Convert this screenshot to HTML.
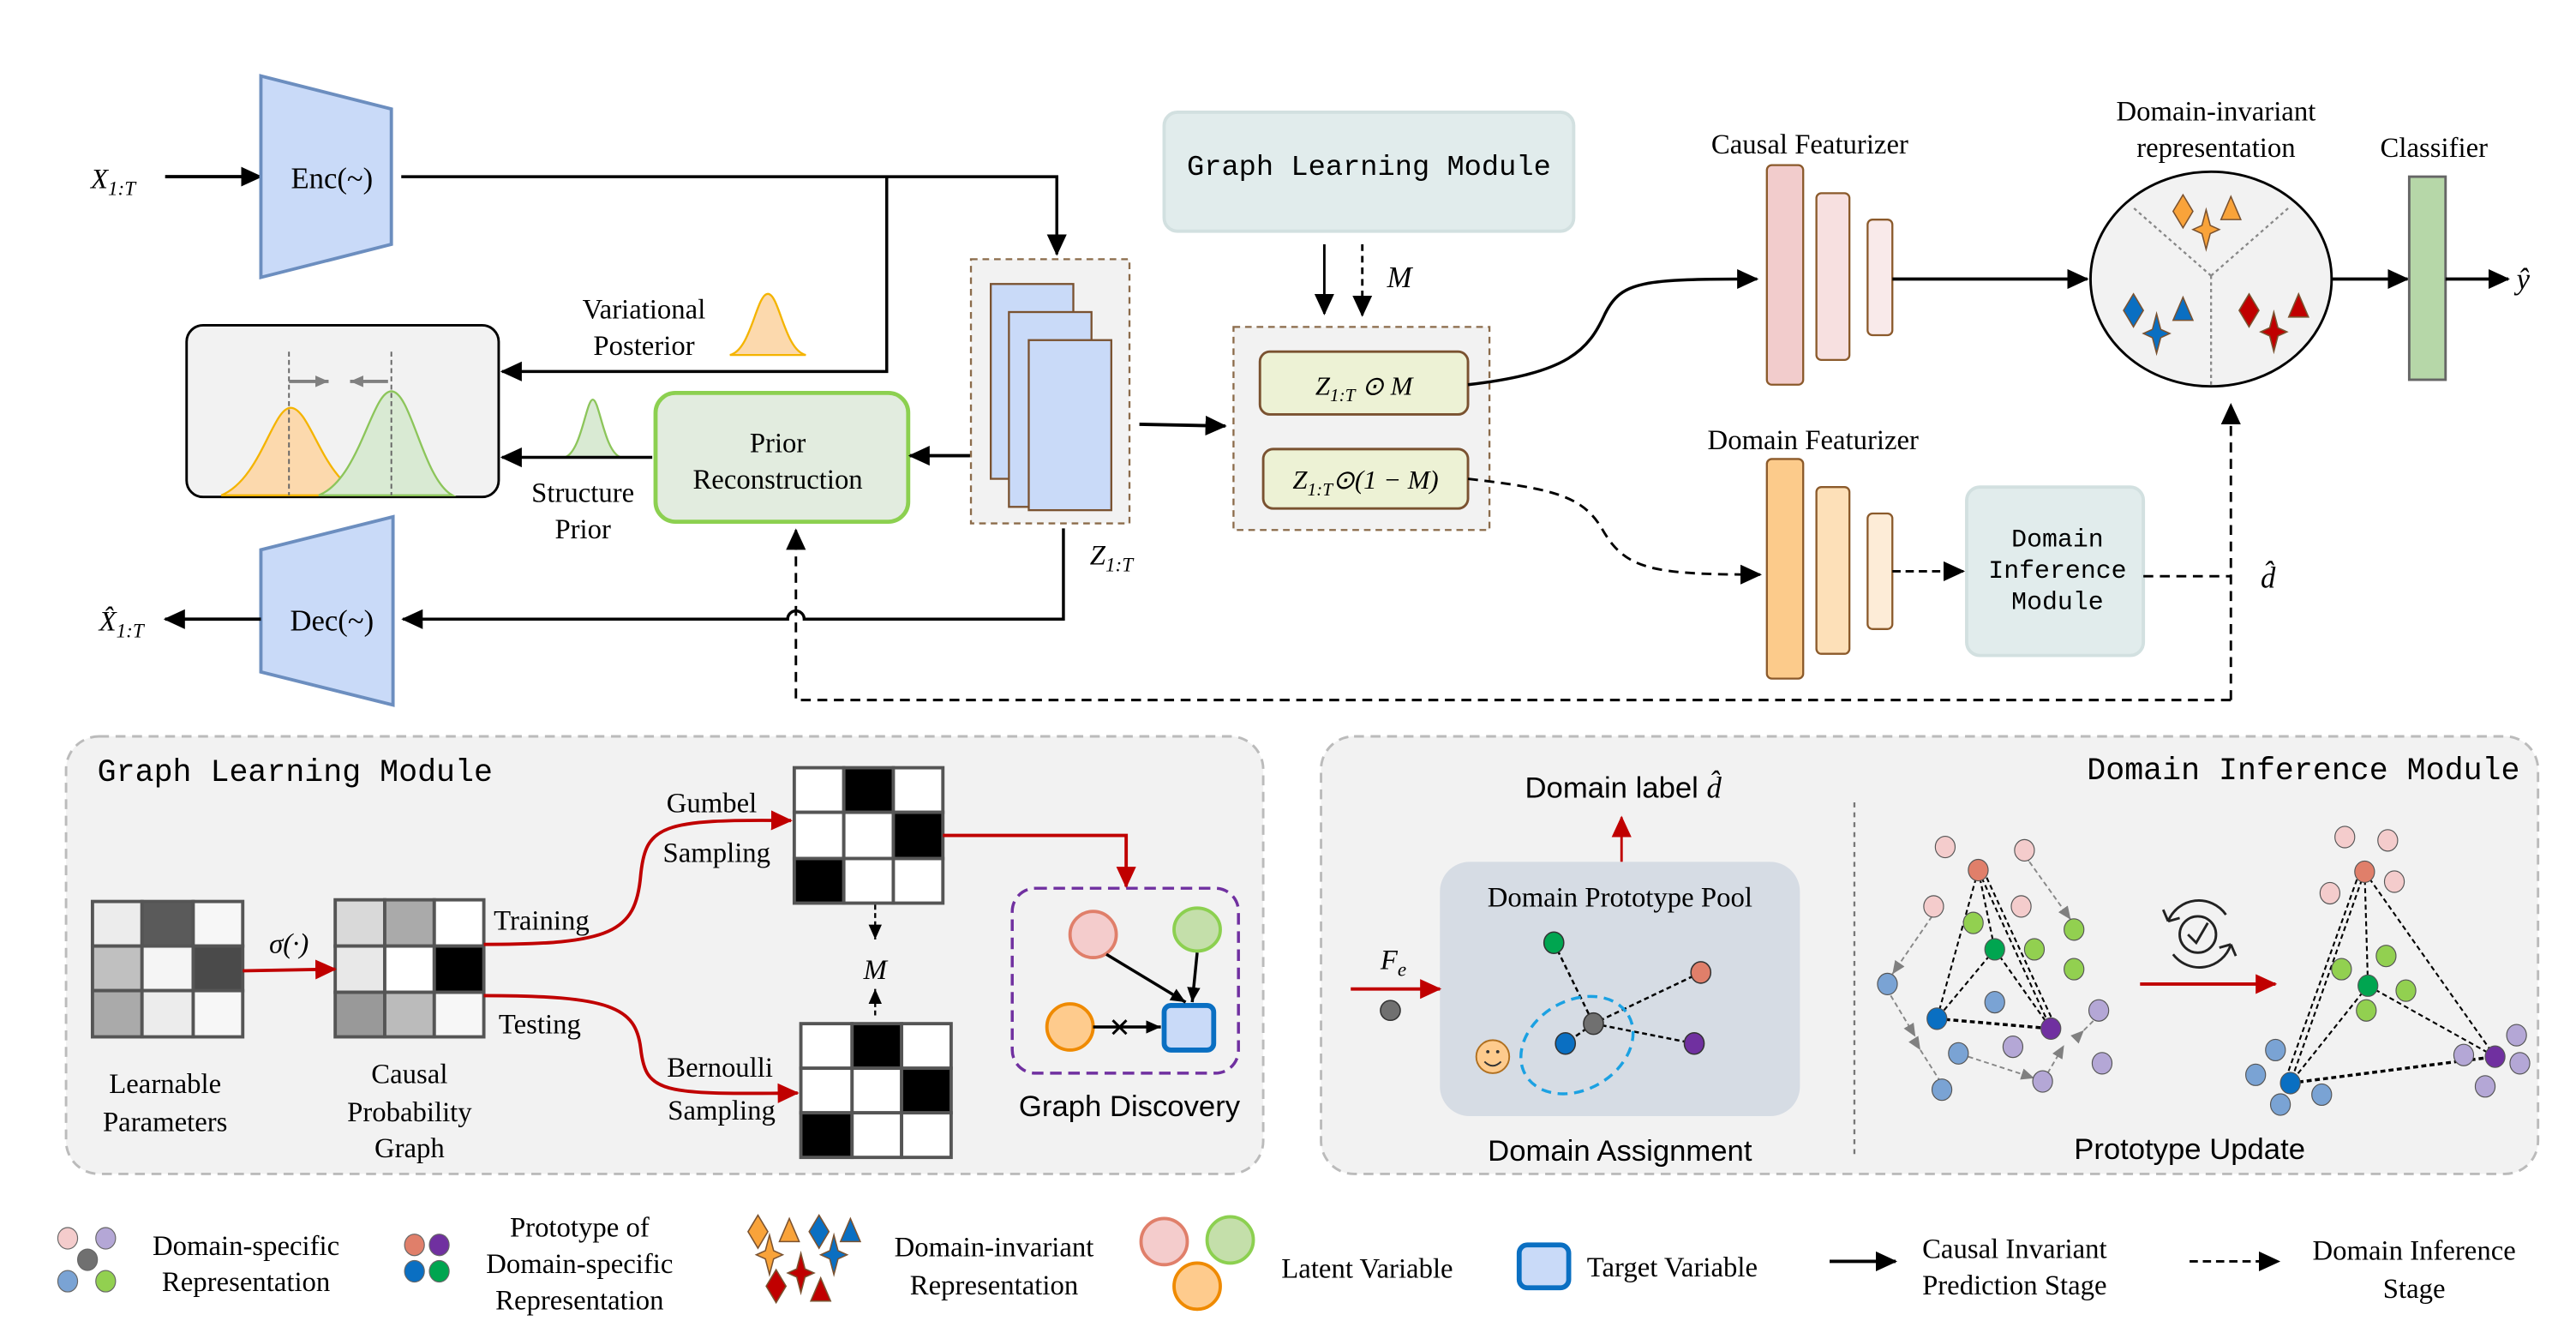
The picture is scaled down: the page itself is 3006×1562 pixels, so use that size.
<!DOCTYPE html>
<html><head><meta charset="utf-8"><style>
html,body{margin:0;padding:0;background:#fff}
svg{display:block}
text{font-family:"Liberation Serif",serif;fill:#000}
.m{font-family:"Liberation Mono",monospace}
.s{font-family:"Liberation Sans",sans-serif}
</style></head><body>
<svg width="3006" height="1562" viewBox="0 0 1560 811" preserveAspectRatio="none" xmlns="http://www.w3.org/2000/svg">
<defs>
<marker id="a" markerUnits="userSpaceOnUse" markerWidth="14" markerHeight="14" refX="12" refY="7" orient="auto"><path d="M0,1 L13,7 L0,13Z" fill="#000"/></marker>
<marker id="as" markerUnits="userSpaceOnUse" markerWidth="10" markerHeight="10" refX="9" refY="5" orient="auto"><path d="M0,1 L9,5 L0,9Z" fill="#000"/></marker>
<marker id="r" markerUnits="userSpaceOnUse" markerWidth="14" markerHeight="14" refX="12" refY="7" orient="auto"><path d="M0,1 L13,7 L0,13Z" fill="#c00000"/></marker>
<marker id="g" markerUnits="userSpaceOnUse" markerWidth="9" markerHeight="9" refX="8" refY="4.5" orient="auto"><path d="M0,1 L8,4.5 L0,8Z" fill="#808080"/></marker>
<path id="dia" d="M0,-10 L6,0 L0,10 L-6,0Z"/>
<path id="tri" d="M0,-8 L6,6 L-6,6Z"/>
<path id="star" d="M0,-12 L2.5,-2.5 L8,0 L2.5,2.5 L0,12 L-2.5,2.5 L-8,0 L-2.5,-2.5Z"/>
</defs>

<!-- ===== TOP ===== -->
<text x="55" y="114" font-style="italic" font-size="17">X<tspan font-size="12" dy="4">1:T</tspan></text>
<line x1="100" y1="107" x2="158" y2="107" stroke="#000" stroke-width="2" marker-end="url(#a)"/>
<polygon points="158,46 237,66 237,148 158,168" fill="#c9daf8" stroke="#6c8ebf" stroke-width="2"/>
<text x="201" y="114" font-size="18" text-anchor="middle">Enc(~)</text>
<polyline points="243,107 640,107 640,154" fill="none" stroke="#000" stroke-width="1.8" marker-end="url(#a)"/>
<polyline points="537,107 537,225 304,225" fill="none" stroke="#000" stroke-width="1.8" marker-end="url(#a)"/>

<rect x="113" y="197" width="189" height="104" rx="10" fill="#f2f2f2" stroke="#000" stroke-width="1.5"/>
<path d="M134,300 C158,290 165,247 176,247 C188,247 195,290 220,300Z" fill="#fcd9ad" stroke="#f4b400" stroke-width="1.2"/>
<path d="M193,300 C218,290 225,237 237,237 C249,237 256,290 274,300Z" fill="#d9ead3" stroke="#8cc55a" stroke-width="1.2"/>
<line x1="175" y1="213" x2="175" y2="300" stroke="#666" stroke-dasharray="3,2"/>
<line x1="237" y1="213" x2="237" y2="300" stroke="#666" stroke-dasharray="3,2"/>
<line x1="175" y1="231" x2="199" y2="231" stroke="#808080" stroke-width="2" marker-end="url(#g)"/>
<line x1="235" y1="231" x2="212" y2="231" stroke="#808080" stroke-width="2" marker-end="url(#g)"/>

<text x="390" y="193" font-size="17" text-anchor="middle">Variational</text>
<text x="390" y="215" font-size="17" text-anchor="middle">Posterior</text>
<path d="M442,215 C455,212 458,178 465,178 C472,178 475,212 488,215Z" fill="#fcd9ad" stroke="#f4b400" stroke-width="1.2"/>
<path d="M342,277 C352,274 355,242 359,242 C363,242 366,274 376,277Z" fill="#d9ead3" stroke="#8cc55a" stroke-width="1.2"/>
<line x1="395" y1="277" x2="304" y2="277" stroke="#000" stroke-width="1.8" marker-end="url(#a)"/>
<text x="353" y="304" font-size="17" text-anchor="middle">Structure</text>
<text x="353" y="326" font-size="17" text-anchor="middle">Prior</text>

<rect x="397" y="238" width="153" height="78" rx="12" fill="#e2ecdf" stroke="#8cd050" stroke-width="2.5"/>
<text x="471" y="274" font-size="17" text-anchor="middle">Prior</text>
<text x="471" y="296" font-size="17" text-anchor="middle">Reconstruction</text>
<line x1="588" y1="276" x2="551" y2="276" stroke="#000" stroke-width="2" marker-end="url(#a)"/>

<rect x="588" y="157" width="96" height="160" fill="#f2f2f2" stroke="#8b6b4a" stroke-width="1.2" stroke-dasharray="4,3"/>
<rect x="600" y="172" width="50" height="118" fill="#c9daf8" stroke="#7a5230" stroke-width="1.2"/>
<rect x="611" y="189" width="50" height="118" fill="#c9daf8" stroke="#7a5230" stroke-width="1.2"/>
<rect x="623" y="206" width="50" height="103" fill="#c9daf8" stroke="#7a5230" stroke-width="1.2"/>
<text x="660" y="342" font-style="italic" font-size="17">Z<tspan font-size="12" dy="4">1:T</tspan></text>
<path d="M644,320 L644,375 L487,375 A5,5 0 0 0 477,375 L244,375" fill="none" stroke="#000" stroke-width="1.8" marker-end="url(#a)"/>

<polygon points="158,333 238,313 238,427 158,407" fill="#c9daf8" stroke="#6c8ebf" stroke-width="2"/>
<text x="201" y="382" font-size="18" text-anchor="middle">Dec(~)</text>
<line x1="158" y1="375" x2="100" y2="375" stroke="#000" stroke-width="2" marker-end="url(#a)"/>
<text x="60" y="382" font-style="italic" font-size="17">X̂<tspan font-size="12" dy="4">1:T</tspan></text>

<polyline points="1351,424 482,424 482,321" fill="none" stroke="#000" stroke-width="1.5" stroke-dasharray="6,4" marker-end="url(#a)"/>
<line x1="1351" y1="424" x2="1351" y2="245" stroke="#000" stroke-width="1.5" stroke-dasharray="6,4" marker-end="url(#a)"/>

<line x1="690" y1="257" x2="742" y2="258" stroke="#000" stroke-width="2" marker-end="url(#a)"/>

<rect x="705" y="68" width="248" height="72" rx="8" fill="#e1ecec" stroke="#d2e0e0" stroke-width="2"/>
<text x="829" y="106" class="m" font-size="17.5" text-anchor="middle">Graph Learning Module</text>
<line x1="802" y1="148" x2="802" y2="190" stroke="#000" stroke-width="1.5" marker-end="url(#a)"/>
<line x1="825" y1="148" x2="825" y2="191" stroke="#000" stroke-width="1.5" stroke-dasharray="4,3" marker-end="url(#a)"/>
<text x="840" y="174" font-style="italic" font-size="18">M</text>

<rect x="747" y="198" width="155" height="123" fill="#f2f2f2" stroke="#8b6b4a" stroke-width="1.2" stroke-dasharray="4,3"/>
<rect x="763" y="213" width="126" height="38" rx="6" fill="#edf2d5" stroke="#7a5230" stroke-width="1.5"/>
<text x="826" y="239" font-style="italic" font-size="16" text-anchor="middle">Z<tspan font-size="11" dy="4">1:T</tspan><tspan dy="-4"> ⊙ M</tspan></text>
<rect x="765" y="272" width="124" height="36" rx="6" fill="#edf2d5" stroke="#7a5230" stroke-width="1.5"/>
<text x="827" y="296" font-style="italic" font-size="16" text-anchor="middle">Z<tspan font-size="11" dy="4">1:T</tspan><tspan dy="-4">⊙(1 − M)</tspan></text>

<path d="M889,233 C950,226 962,212 972,190 C982,170 995,169 1064,169" fill="none" stroke="#000" stroke-width="1.8" marker-end="url(#a)"/>
<path d="M889,290 C940,296 958,300 970,320 C984,345 1000,348 1066,348" fill="none" stroke="#000" stroke-width="1.5" stroke-dasharray="6,4" marker-end="url(#a)"/>

<text x="1096" y="93" font-size="17" text-anchor="middle">Causal Featurizer</text>
<rect x="1070" y="100" width="22" height="133" rx="3" fill="#f2cccc" stroke="#8b5a2b" stroke-width="1.2"/>
<rect x="1100" y="117" width="20" height="101" rx="3" fill="#f7e0e0" stroke="#8b5a2b" stroke-width="1.2"/>
<rect x="1131" y="133" width="15" height="70" rx="3" fill="#f9eaea" stroke="#8b5a2b" stroke-width="1.2"/>
<line x1="1146" y1="169" x2="1264" y2="169" stroke="#000" stroke-width="2" marker-end="url(#a)"/>

<text x="1342" y="73" font-size="17" text-anchor="middle">Domain-invariant</text>
<text x="1342" y="95" font-size="17" text-anchor="middle">representation</text>
<ellipse cx="1339" cy="169" rx="73" ry="65" fill="#f2f2f2" stroke="#000" stroke-width="1.5"/>
<g stroke="#888" stroke-dasharray="2,2" stroke-width="1.2"><line x1="1339" y1="167" x2="1291" y2="125"/><line x1="1339" y1="167" x2="1387" y2="125"/><line x1="1339" y1="167" x2="1339" y2="233"/></g>
<g stroke="#7a5230" stroke-width="0.8">
<use href="#dia" x="1322" y="128" fill="#f9a33a"/><use href="#tri" x="1351" y="127" fill="#f9a33a"/><use href="#star" x="1336" y="139" fill="#f9a33a"/>
<use href="#dia" x="1292" y="188" fill="#0a6fc2"/><use href="#tri" x="1322" y="188" fill="#0a6fc2"/><use href="#star" x="1306" y="202" fill="#0a6fc2"/>
<use href="#dia" x="1362" y="188" fill="#c00000"/><use href="#tri" x="1392" y="186" fill="#c00000"/><use href="#star" x="1377" y="201" fill="#c00000"/>
</g>
<line x1="1412" y1="169" x2="1458" y2="169" stroke="#000" stroke-width="2" marker-end="url(#a)"/>
<text x="1474" y="95" font-size="17" text-anchor="middle">Classifier</text>
<rect x="1459" y="107" width="22" height="123" fill="#b6d7a8" stroke="#666" stroke-width="1.5"/>
<line x1="1481" y1="169" x2="1519" y2="169" stroke="#000" stroke-width="2" marker-end="url(#a)"/>
<text x="1524" y="175" font-style="italic" font-size="18">ŷ</text>

<text x="1098" y="272" font-size="17" text-anchor="middle">Domain Featurizer</text>
<rect x="1070" y="278" width="22" height="133" rx="3" fill="#fccb8b" stroke="#8b5a2b" stroke-width="1.2"/>
<rect x="1100" y="295" width="20" height="101" rx="3" fill="#fde0b8" stroke="#8b5a2b" stroke-width="1.2"/>
<rect x="1131" y="311" width="15" height="70" rx="3" fill="#fdecd7" stroke="#8b5a2b" stroke-width="1.2"/>
<line x1="1146" y1="346" x2="1189" y2="346" stroke="#000" stroke-width="1.5" stroke-dasharray="5,3" marker-end="url(#a)"/>
<rect x="1191" y="295" width="107" height="102" rx="8" fill="#e1ecec" stroke="#d2e0e0" stroke-width="2"/>
<text x="1246" y="331" class="m" font-size="15.5" text-anchor="middle">Domain</text>
<text x="1246" y="350" class="m" font-size="15.5" text-anchor="middle">Inference</text>
<text x="1246" y="369" class="m" font-size="15.5" text-anchor="middle">Module</text>
<line x1="1298" y1="349" x2="1351" y2="349" stroke="#000" stroke-width="1.5" stroke-dasharray="6,4"/>
<text x="1369" y="356" font-style="italic" font-size="18">d̂</text>

<!-- ===== BOTTOM LEFT ===== -->
<rect x="40" y="446" width="725" height="265" rx="20" fill="#f2f2f2" stroke="#bbb" stroke-width="1.5" stroke-dasharray="6,4"/>
<text x="59" y="473" class="m" font-size="19">Graph Learning Module</text>
<g stroke="#555" stroke-width="2">
<rect x="56" y="546" width="30" height="27" fill="#ececec"/><rect x="86" y="546" width="31" height="27" fill="#5a5a5a"/><rect x="117" y="546" width="30" height="27" fill="#f7f7f7"/>
<rect x="56" y="573" width="30" height="27" fill="#c0c0c0"/><rect x="86" y="573" width="31" height="27" fill="#f5f5f5"/><rect x="117" y="573" width="30" height="27" fill="#4a4a4a"/>
<rect x="56" y="600" width="30" height="28" fill="#aaa"/><rect x="86" y="600" width="31" height="28" fill="#ececec"/><rect x="117" y="600" width="30" height="28" fill="#f7f7f7"/>
<rect x="203" y="545" width="30" height="28" fill="#d9d9d9"/><rect x="233" y="545" width="30" height="28" fill="#aaa"/><rect x="263" y="545" width="30" height="28" fill="#fff"/>
<rect x="203" y="573" width="30" height="28" fill="#e8e8e8"/><rect x="233" y="573" width="30" height="28" fill="#fff"/><rect x="263" y="573" width="30" height="28" fill="#000"/>
<rect x="203" y="601" width="30" height="27" fill="#999"/><rect x="233" y="601" width="30" height="27" fill="#bbb"/><rect x="263" y="601" width="30" height="27" fill="#f7f7f7"/>
<rect x="481" y="465" width="30" height="27" fill="#fff"/><rect x="511" y="465" width="30" height="27" fill="#000"/><rect x="541" y="465" width="30" height="27" fill="#fff"/>
<rect x="481" y="492" width="30" height="28" fill="#fff"/><rect x="511" y="492" width="30" height="28" fill="#fff"/><rect x="541" y="492" width="30" height="28" fill="#000"/>
<rect x="481" y="520" width="30" height="27" fill="#000"/><rect x="511" y="520" width="30" height="27" fill="#fff"/><rect x="541" y="520" width="30" height="27" fill="#fff"/>
<rect x="485" y="620" width="31" height="27" fill="#fff"/><rect x="516" y="620" width="30" height="27" fill="#000"/><rect x="546" y="620" width="30" height="27" fill="#fff"/>
<rect x="485" y="647" width="31" height="27" fill="#fff"/><rect x="516" y="647" width="30" height="27" fill="#fff"/><rect x="546" y="647" width="30" height="27" fill="#000"/>
<rect x="485" y="674" width="31" height="27" fill="#000"/><rect x="516" y="674" width="30" height="27" fill="#fff"/><rect x="546" y="674" width="30" height="27" fill="#fff"/>
</g>
<line x1="147" y1="588" x2="203" y2="587" stroke="#c00000" stroke-width="2" marker-end="url(#r)"/>
<text x="175" y="577" font-size="17" text-anchor="middle" font-style="italic">σ(·)</text>
<text x="100" y="662" font-size="17" text-anchor="middle">Learnable</text>
<text x="100" y="685" font-size="17" text-anchor="middle">Parameters</text>
<text x="248" y="656" font-size="17" text-anchor="middle">Causal</text>
<text x="248" y="679" font-size="17" text-anchor="middle">Probability</text>
<text x="248" y="701" font-size="17" text-anchor="middle">Graph</text>
<text x="299" y="563" font-size="17">Training</text>
<text x="302" y="626" font-size="17">Testing</text>
<path d="M293,572 C370,572 385,565 388,530 C391,500 400,496 479,497" fill="none" stroke="#c00000" stroke-width="2" marker-end="url(#r)"/>
<path d="M293,603 C370,603 385,610 388,635 C391,662 400,663 483,662" fill="none" stroke="#c00000" stroke-width="2" marker-end="url(#r)"/>
<text x="431" y="492" font-size="17" text-anchor="middle">Gumbel</text>
<text x="434" y="522" font-size="17" text-anchor="middle">Sampling</text>
<text x="436" y="652" font-size="17" text-anchor="middle">Bernoulli</text>
<text x="437" y="678" font-size="17" text-anchor="middle">Sampling</text>
<line x1="530" y1="548" x2="530" y2="569" stroke="#000" stroke-width="1.2" stroke-dasharray="3,2" marker-end="url(#as)"/>
<line x1="530" y1="615" x2="530" y2="599" stroke="#000" stroke-width="1.2" stroke-dasharray="3,2" marker-end="url(#as)"/>
<text x="530" y="593" font-size="17" font-style="italic" text-anchor="middle">M</text>
<polyline points="571,506 682,506 682,537" fill="none" stroke="#c00000" stroke-width="2" marker-end="url(#r)"/>
<rect x="613" y="538" width="137" height="112" rx="14" fill="none" stroke="#7030a0" stroke-width="1.8" stroke-dasharray="7,4"/>
<ellipse cx="662" cy="566" rx="14" ry="14" fill="#f4cccc" stroke="#e07f6a" stroke-width="2"/>
<ellipse cx="725" cy="563" rx="14" ry="13" fill="#c4dfaa" stroke="#8cd050" stroke-width="2"/>
<ellipse cx="648" cy="622" rx="14" ry="14" fill="#fecb8d" stroke="#ef8a00" stroke-width="2"/>
<rect x="705" y="609" width="30" height="27" rx="4" fill="#c9daf8" stroke="#0a6fc2" stroke-width="3"/>
<line x1="670" y1="578" x2="718" y2="607" stroke="#000" stroke-width="1.8" marker-end="url(#as)"/>
<line x1="725" y1="577" x2="722" y2="607" stroke="#000" stroke-width="1.8" marker-end="url(#as)"/>
<line x1="662" y1="622" x2="703" y2="622" stroke="#000" stroke-width="1.8" marker-end="url(#as)"/>
<text x="678" y="628" font-size="16" text-anchor="middle" class="s" fill="#444">✕</text>
<text x="684" y="676" class="s" font-size="18" text-anchor="middle">Graph Discovery</text>

<!-- ===== BOTTOM RIGHT ===== -->
<rect x="800" y="446" width="737" height="265" rx="20" fill="#f2f2f2" stroke="#bbb" stroke-width="1.5" stroke-dasharray="6,4"/>
<text x="1526" y="472" class="m" font-size="19" text-anchor="end">Domain Inference Module</text>
<text x="983" y="483" class="s" font-size="18" text-anchor="middle">Domain label <tspan font-family="Liberation Serif" font-style="italic">d̂</tspan></text>
<line x1="982" y1="522" x2="982" y2="495" stroke="#c00000" stroke-width="1.5" marker-end="url(#r)"/>
<rect x="872" y="522" width="218" height="154" rx="18" fill="#d6dce4"/>
<text x="981" y="549" font-size="17" text-anchor="middle">Domain Prototype Pool</text>
<g stroke="#000" stroke-width="1.3" stroke-dasharray="3,2">
<line x1="941" y1="571" x2="965" y2="620"/><line x1="1030" y1="589" x2="965" y2="620"/><line x1="965" y1="620" x2="948" y2="632"/><line x1="965" y1="620" x2="1026" y2="632"/>
</g>
<ellipse cx="955" cy="633" rx="36" ry="27" transform="rotate(-30 955 633)" fill="none" stroke="#1ba1e2" stroke-width="1.8" stroke-dasharray="6,4"/>
<g stroke="#333" stroke-width="0.8">
<ellipse cx="941" cy="571" rx="6" ry="6.5" fill="#00a550"/>
<ellipse cx="1030" cy="589" rx="6" ry="6.5" fill="#e07f6a"/>
<ellipse cx="965" cy="620" rx="6" ry="6.5" fill="#707070"/>
<ellipse cx="948" cy="632" rx="6" ry="6.5" fill="#0a6fc2"/>
<ellipse cx="1026" cy="632" rx="6" ry="6.5" fill="#7030a0"/>
<ellipse cx="842" cy="612" rx="6" ry="6" fill="#707070"/>
</g>
<circle cx="904" cy="640" r="10" fill="#fecb8d" stroke="#b07020" stroke-width="1"/>
<circle cx="901" cy="637" r="1" fill="#333"/><circle cx="907" cy="637" r="1" fill="#333"/>
<path d="M899,643 Q904,648 909,643" fill="none" stroke="#333" stroke-width="1"/>
<text x="836" y="587" font-size="17" font-style="italic">F<tspan font-size="12" dy="4">e</tspan></text>
<line x1="818" y1="599" x2="872" y2="599" stroke="#c00000" stroke-width="2" marker-end="url(#r)"/>
<text x="981" y="703" class="s" font-size="18" text-anchor="middle">Domain Assignment</text>
<line x1="1123" y1="486" x2="1123" y2="700" stroke="#777" stroke-width="1.2" stroke-dasharray="3,3"/>
<text x="1326" y="702" class="s" font-size="18" text-anchor="middle">Prototype Update</text>

<!-- left cluster -->
<g stroke="#000" stroke-width="1.1" stroke-dasharray="3,2" fill="none">
<line x1="1198" y1="527" x2="1173" y2="617"/><line x1="1198" y1="527" x2="1242" y2="623"/><line x1="1198" y1="527" x2="1208" y2="575"/>
<line x1="1208" y1="575" x2="1173" y2="617"/><line x1="1208" y1="575" x2="1242" y2="623"/><line x1="1173" y1="617" x2="1242" y2="623" stroke-width="1.8"/>
<line x1="1201" y1="527" x2="1244" y2="620"/>
</g>
<g stroke="#888" stroke-width="1" stroke-dasharray="3,2" fill="none">
<line x1="1229" y1="522" x2="1254" y2="557" marker-end="url(#g)" marker-start="url(#g)"/>
<line x1="1170" y1="555" x2="1146" y2="590" marker-end="url(#g)" marker-start="url(#g)"/>
<line x1="1145" y1="603" x2="1160" y2="628" marker-end="url(#g)"/>
<line x1="1163" y1="636" x2="1175" y2="655" marker-start="url(#g)"/>
<line x1="1192" y1="640" x2="1232" y2="653" marker-start="url(#g)" marker-end="url(#g)"/>
<line x1="1240" y1="650" x2="1250" y2="633" marker-end="url(#g)"/>
<line x1="1262" y1="624" x2="1268" y2="618" marker-start="url(#g)"/>
</g>
<g stroke="#555" stroke-width="0.6">
<ellipse cx="1178" cy="513" rx="6" ry="6.5" fill="#f4cccc"/><ellipse cx="1226" cy="515" rx="6" ry="6.5" fill="#f4cccc"/>
<ellipse cx="1198" cy="527" rx="6" ry="6.5" fill="#e07f6a"/>
<ellipse cx="1171" cy="549" rx="6" ry="6.5" fill="#f4cccc"/><ellipse cx="1224" cy="549" rx="6" ry="6.5" fill="#f4cccc"/>
<ellipse cx="1195" cy="559" rx="6" ry="6.5" fill="#92d050"/><ellipse cx="1208" cy="575" rx="6" ry="6.5" fill="#00a550"/>
<ellipse cx="1232" cy="575" rx="6" ry="6.5" fill="#92d050"/><ellipse cx="1256" cy="563" rx="6" ry="6.5" fill="#92d050"/><ellipse cx="1256" cy="587" rx="6" ry="6.5" fill="#92d050"/>
<ellipse cx="1143" cy="596" rx="6" ry="6.5" fill="#7aa3d4"/><ellipse cx="1208" cy="607" rx="6" ry="6.5" fill="#7aa3d4"/>
<ellipse cx="1173" cy="617" rx="6" ry="6.5" fill="#0a6fc2"/><ellipse cx="1242" cy="623" rx="6" ry="6.5" fill="#7030a0"/>
<ellipse cx="1271" cy="612" rx="6" ry="6.5" fill="#b4a7d6"/><ellipse cx="1219" cy="634" rx="6" ry="6.5" fill="#b4a7d6"/>
<ellipse cx="1186" cy="638" rx="6" ry="6.5" fill="#7aa3d4"/><ellipse cx="1273" cy="644" rx="6" ry="6.5" fill="#b4a7d6"/>
<ellipse cx="1237" cy="655" rx="6" ry="6.5" fill="#b4a7d6"/><ellipse cx="1176" cy="660" rx="6" ry="6.5" fill="#7aa3d4"/>
</g>
<!-- refresh icon -->
<g fill="none" stroke="#222" stroke-width="1.5">
<path d="M1313,558 A20,20 0 0 1 1348,554"/><path d="M1351,572 A20,20 0 0 1 1316,578"/>
<circle cx="1331" cy="566" r="11"/><path d="M1325,566 L1330,571 L1337,559"/>
<path d="M1313,558 L1310,551 M1313,558 L1320,556"/><path d="M1351,572 L1354,579 M1351,572 L1344,574"/>
</g>
<line x1="1296" y1="596" x2="1378" y2="596" stroke="#c00000" stroke-width="2" marker-end="url(#r)"/>
<!-- right cluster -->
<g stroke="#000" stroke-width="1.1" stroke-dasharray="3,2" fill="none">
<line x1="1432" y1="528" x2="1387" y2="656"/><line x1="1432" y1="528" x2="1511" y2="640"/><line x1="1432" y1="528" x2="1434" y2="597"/>
<line x1="1434" y1="597" x2="1387" y2="656"/><line x1="1434" y1="597" x2="1511" y2="640"/><line x1="1387" y1="656" x2="1511" y2="640" stroke-width="1.8"/>
<line x1="1429" y1="528" x2="1384" y2="654"/>
</g>
<g stroke="#555" stroke-width="0.6">
<ellipse cx="1420" cy="507" rx="6" ry="6.5" fill="#f4cccc"/><ellipse cx="1446" cy="509" rx="6" ry="6.5" fill="#f4cccc"/>
<ellipse cx="1432" cy="528" rx="6" ry="6.5" fill="#e07f6a"/>
<ellipse cx="1411" cy="541" rx="6" ry="6.5" fill="#f4cccc"/><ellipse cx="1450" cy="534" rx="6" ry="6.5" fill="#f4cccc"/>
<ellipse cx="1445" cy="579" rx="6" ry="6.5" fill="#92d050"/><ellipse cx="1418" cy="587" rx="6" ry="6.5" fill="#92d050"/>
<ellipse cx="1434" cy="597" rx="6" ry="6.5" fill="#00a550"/><ellipse cx="1457" cy="600" rx="6" ry="6.5" fill="#92d050"/><ellipse cx="1433" cy="612" rx="6" ry="6.5" fill="#92d050"/>
<ellipse cx="1378" cy="636" rx="6" ry="6.5" fill="#7aa3d4"/><ellipse cx="1366" cy="651" rx="6" ry="6.5" fill="#7aa3d4"/>
<ellipse cx="1387" cy="656" rx="6" ry="6.5" fill="#0a6fc2"/><ellipse cx="1406" cy="663" rx="6" ry="6.5" fill="#7aa3d4"/><ellipse cx="1381" cy="669" rx="6" ry="6.5" fill="#7aa3d4"/>
<ellipse cx="1524" cy="627" rx="6" ry="6.5" fill="#b4a7d6"/><ellipse cx="1492" cy="639" rx="6" ry="6.5" fill="#b4a7d6"/>
<ellipse cx="1511" cy="640" rx="6" ry="6.5" fill="#7030a0"/><ellipse cx="1526" cy="644" rx="6" ry="6.5" fill="#b4a7d6"/><ellipse cx="1505" cy="658" rx="6" ry="6.5" fill="#b4a7d6"/>
</g>

<!-- ===== LEGEND ===== -->
<g stroke="#666" stroke-width="0.6">
<ellipse cx="41" cy="750" rx="6" ry="6.5" fill="#f4cccc"/><ellipse cx="64" cy="750" rx="6" ry="6.5" fill="#b4a7d6"/>
<ellipse cx="53" cy="763" rx="6" ry="6.5" fill="#707070"/>
<ellipse cx="41" cy="776" rx="6" ry="6.5" fill="#7aa3d4"/><ellipse cx="64" cy="776" rx="6" ry="6.5" fill="#92d050"/>
<ellipse cx="251" cy="754" rx="6" ry="6.5" fill="#e07f6a"/><ellipse cx="266" cy="754" rx="6" ry="6.5" fill="#7030a0"/>
<ellipse cx="251" cy="770" rx="6" ry="6.5" fill="#0a6fc2"/><ellipse cx="266" cy="770" rx="6" ry="6.5" fill="#00a550"/>
</g>
<text x="149" y="760" font-size="17" text-anchor="middle">Domain-specific</text>
<text x="149" y="782" font-size="17" text-anchor="middle">Representation</text>
<text x="351" y="749" font-size="17" text-anchor="middle">Prototype of</text>
<text x="351" y="771" font-size="17" text-anchor="middle">Domain-specific</text>
<text x="351" y="793" font-size="17" text-anchor="middle">Representation</text>
<g stroke="#7a5230" stroke-width="0.8">
<use href="#dia" x="459" y="746" fill="#f9a33a"/><use href="#tri" x="478" y="746" fill="#f9a33a"/>
<use href="#dia" x="496" y="746" fill="#0a6fc2"/><use href="#tri" x="515" y="746" fill="#0a6fc2"/>
<use href="#star" x="466" y="760" fill="#f9a33a"/><use href="#star" x="505" y="760" fill="#0a6fc2"/>
<use href="#star" x="485" y="771" fill="#c00000"/><use href="#dia" x="470" y="779" fill="#c00000"/><use href="#tri" x="497" y="782" fill="#c00000"/>
</g>
<text x="602" y="761" font-size="17" text-anchor="middle">Domain-invariant</text>
<text x="602" y="784" font-size="17" text-anchor="middle">Representation</text>
<circle cx="705" cy="752" r="14" fill="#f4cccc" stroke="#e07f6a" stroke-width="2"/>
<circle cx="745" cy="751" r="14" fill="#c4dfaa" stroke="#8cd050" stroke-width="2"/>
<circle cx="725" cy="779" r="14" fill="#fecb8d" stroke="#ef8a00" stroke-width="2"/>
<text x="776" y="774" font-size="17">Latent Variable</text>
<rect x="920" y="754" width="30" height="26" rx="5" fill="#c9daf8" stroke="#0a6fc2" stroke-width="3"/>
<text x="961" y="773" font-size="17">Target Variable</text>
<line x1="1108" y1="764" x2="1148" y2="764" stroke="#000" stroke-width="2" marker-end="url(#a)"/>
<text x="1220" y="762" font-size="17" text-anchor="middle">Causal Invariant</text>
<text x="1220" y="784" font-size="17" text-anchor="middle">Prediction Stage</text>
<line x1="1326" y1="764" x2="1380" y2="764" stroke="#000" stroke-width="1.5" stroke-dasharray="5,3" marker-end="url(#a)"/>
<text x="1462" y="763" font-size="17" text-anchor="middle">Domain Inference</text>
<text x="1462" y="786" font-size="17" text-anchor="middle">Stage</text>
</svg>
</body></html>
